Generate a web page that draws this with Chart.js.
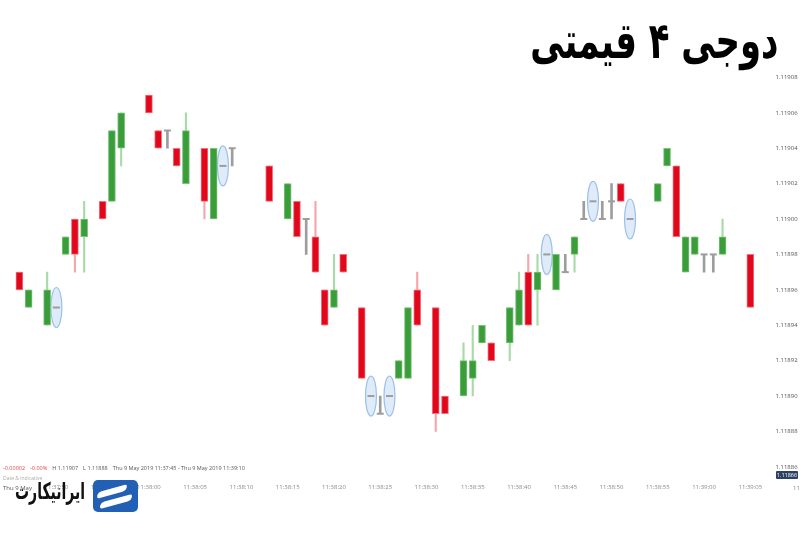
<!DOCTYPE html>
<html lang="fa">
<head>
<meta charset="utf-8">
<script src="https://cdn.jsdelivr.net/npm/chart.js@4.4.1/dist/chart.umd.min.js"></script>
<style>
  html, body { margin: 0; padding: 0; background: #fff; }
  #wrap { position: relative; width: 800px; height: 533px; overflow: hidden; font-family: 'Open Sans', sans-serif; }
  #chart { position: absolute; left: 0; top: 0; }
  .title { position: absolute; right: 22px; top: 12px; font: bold 50px 'DejaVu Sans', sans-serif; color: #000; direction: rtl; white-space: nowrap; transform-origin: right top; }
  .info { position: absolute; left: 3px; top: 464px; font-size: 5.5px; color: #555; white-space: nowrap; }
  .info .neg { color: #e04848; }
  .info span { margin-right: 5px; }
  .sub { position: absolute; left: 3px; top: 475px; font-size: 5px; color: #aaa; }
  .day { position: absolute; left: 3px; top: 484px; font-size: 6px; color: #555; }
  .lastTick { position: absolute; left: 793px; top: 484px; font-size: 6px; color: #8a8a8a; white-space: nowrap; }
  .badge { position: absolute; left: 776px; top: 471px; width: 22px; height: 8px; background: #2d4262; color: #fff; font-size: 5.5px; line-height: 8px; text-align: center; border-radius: 1px; }
  .brand { position: absolute; left: 15px; top: 478px; font: bold 23px 'DejaVu Sans', sans-serif; color: #111; direction: rtl; white-space: nowrap; transform-origin: left top; }
  .icon { position: absolute; left: 93px; top: 480px; width: 45px; height: 32px; background: #2160b4; border-radius: 5px; overflow: hidden; }
  .icon i { position: absolute; display: block; background: #fff; border-radius: 3px; }
</style>
</head>
<body>
<div id="wrap">
  <canvas id="chart" width="800" height="533"></canvas>
  <div class="title" id="title">دوجی ۴ قیمتی</div>
  <div class="info"><span class="neg">-0.00002</span><span class="neg">-0.00%</span><span>H 1.11907</span><span>L 1.11888</span><span>Thu 9 May 2019 11:37:45 - Thu 9 May 2019 11:39:10</span></div>
  <div class="sub">Date &amp; indicative</div>
  <div class="day">Thu 9 May</div>
  <div class="lastTick">11:39:10</div>
  <div class="badge">1.11866</div>
  <div class="brand" id="brand">ایرانیکارت</div>
  <div class="icon">
    <i style="left:6px; top:8px; width:26px; height:7px; transform: skewX(-30deg) rotate(-18deg);"></i>
    <i style="left:9px; top:18px; width:28px; height:7px; transform: skewX(-30deg) rotate(-18deg);"></i>
  </div>
</div>
<script>
// squeeze the Persian texts to the widths they take on the picture
function fitWidth(id, width) {
  const el = document.getElementById(id);
  el.style.transform = `scaleX(${width / el.offsetWidth})`;
}
fitWidth('title', 248);
fitWidth('brand', 70);

// one candle per second, 11:37:45 - 11:39:07
const times = [
  '11:37:45', '11:37:46', '11:37:47', '11:37:48', '11:37:49', '11:37:50', '11:37:51', '11:37:52', '11:37:53', '11:37:54',
  '11:37:55', '11:37:56', '11:37:57', '11:37:58', '11:37:59', '11:38:00', '11:38:01', '11:38:02', '11:38:03', '11:38:04',
  '11:38:05', '11:38:06', '11:38:07', '11:38:08', '11:38:09', '11:38:10', '11:38:11', '11:38:12', '11:38:13', '11:38:14',
  '11:38:15', '11:38:16', '11:38:17', '11:38:18', '11:38:19', '11:38:20', '11:38:21', '11:38:22', '11:38:23', '11:38:24',
  '11:38:25', '11:38:26', '11:38:27', '11:38:28', '11:38:29', '11:38:30', '11:38:31', '11:38:32', '11:38:33', '11:38:34',
  '11:38:35', '11:38:36', '11:38:37', '11:38:38', '11:38:39', '11:38:40', '11:38:41', '11:38:42', '11:38:43', '11:38:44',
  '11:38:45', '11:38:46', '11:38:47', '11:38:48', '11:38:49', '11:38:50', '11:38:51', '11:38:52', '11:38:53', '11:38:54',
  '11:38:55', '11:38:56', '11:38:57', '11:38:58', '11:38:59', '11:39:00', '11:39:01', '11:39:02', '11:39:03', '11:39:04',
  '11:39:05', '11:39:06', '11:39:07'
];

const tickLabels = ['11:37:50', '11:37:55', '11:38:00', '11:38:05', '11:38:10', '11:38:15', '11:38:20', '11:38:25',
  '11:38:30', '11:38:35', '11:38:40', '11:38:45', '11:38:50', '11:38:55', '11:39:00', '11:39:05'];

const priceTicks = [1.11886, 1.11888, 1.11890, 1.11892, 1.11894, 1.11896, 1.11898, 1.11900, 1.11902, 1.11904, 1.11906, 1.11908];

const open = [
  null, 1.11897, 1.11895, null, 1.11894, 1.11895, 1.11898, 1.11900, 1.11899, null,
  1.11901, 1.11901, 1.11904, null, null, 1.11907, 1.11905, 1.11905, 1.11904, 1.11902,
  null, 1.11904, 1.11900, 1.11903, 1.11904, null, null, null, 1.11903, null,
  1.11900, 1.11901, 1.11900, 1.11899, 1.11896, 1.11895, 1.11898, null, 1.11895, 1.11890,
  1.11889, 1.11890, 1.11891, 1.11891, 1.11896, null, 1.11895, 1.11890, null, 1.11890,
  1.11891, 1.11893, 1.11893, null, 1.11893, 1.11894, 1.11897, 1.11896, 1.11898, 1.11896,
  1.11897, 1.11898, 1.11900, 1.11901, 1.11900, 1.11901, 1.11902, 1.11900, null, null,
  1.11901, 1.11903, 1.11903, 1.11897, 1.11898, 1.11898, 1.11898, 1.11898, null, null,
  1.11898, null, null
];
const high = [
  null, 1.11897, 1.11896, null, 1.11897, 1.11895, 1.11899, 1.11900, 1.11901, null,
  1.11901, 1.11905, 1.11906, null, null, 1.11907, 1.11905, 1.11905, 1.11904, 1.11906,
  null, 1.11904, 1.11904, 1.11903, 1.11904, null, null, null, 1.11903, null,
  1.11902, 1.11901, 1.11900, 1.11901, 1.11896, 1.11898, 1.11898, null, 1.11895, 1.11890,
  1.11890, 1.11890, 1.11892, 1.11895, 1.11897, null, 1.11895, 1.11890, null, 1.11893,
  1.11894, 1.11894, 1.11893, null, 1.11895, 1.11897, 1.11898, 1.11898, 1.11898, 1.11898,
  1.11898, 1.11899, 1.11901, 1.11901, 1.11901, 1.11902, 1.11902, 1.11900, null, null,
  1.11902, 1.11904, 1.11903, 1.11899, 1.11899, 1.11898, 1.11898, 1.11900, null, null,
  1.11898, null, null
];
const low = [
  null, 1.11896, 1.11895, null, 1.11894, 1.11895, 1.11898, 1.11897, 1.11897, null,
  1.11900, 1.11901, 1.11903, null, null, 1.11906, 1.11904, 1.11904, 1.11903, 1.11902,
  null, 1.11900, 1.11900, 1.11903, 1.11903, null, null, null, 1.11901, null,
  1.11900, 1.11899, 1.11898, 1.11897, 1.11894, 1.11895, 1.11897, null, 1.11891, 1.11890,
  1.11889, 1.11890, 1.11891, 1.11891, 1.11894, null, 1.11888, 1.11889, null, 1.11890,
  1.11890, 1.11893, 1.11892, null, 1.11892, 1.11894, 1.11894, 1.11894, 1.11898, 1.11896,
  1.11897, 1.11897, 1.11900, 1.11901, 1.11900, 1.11900, 1.11901, 1.11900, null, null,
  1.11901, 1.11903, 1.11899, 1.11897, 1.11898, 1.11897, 1.11897, 1.11898, null, null,
  1.11895, null, null
];
const close = [
  null, 1.11896, 1.11896, null, 1.11896, 1.11895, 1.11899, 1.11898, 1.11900, null,
  1.11900, 1.11905, 1.11906, null, null, 1.11906, 1.11904, 1.11905, 1.11903, 1.11905,
  null, 1.11901, 1.11904, 1.11903, 1.11904, null, null, null, 1.11901, null,
  1.11902, 1.11899, 1.11900, 1.11897, 1.11894, 1.11896, 1.11897, null, 1.11891, 1.11890,
  1.11889, 1.11890, 1.11892, 1.11895, 1.11894, null, 1.11889, 1.11889, null, 1.11892,
  1.11892, 1.11894, 1.11892, null, 1.11895, 1.11896, 1.11894, 1.11897, 1.11898, 1.11898,
  1.11897, 1.11899, 1.11900, 1.11901, 1.11900, 1.11901, 1.11901, 1.11900, null, null,
  1.11902, 1.11904, 1.11899, 1.11899, 1.11899, 1.11898, 1.11898, 1.11899, null, null,
  1.11895, null, null
];

// four-price dojis circled on the picture
const ringTimes = ['11:37:50', '11:38:08', '11:38:24', '11:38:26', '11:38:43', '11:38:48', '11:38:52'];

const UP = '#3a9d3a', UP_EDGE = '#79c479', UP_WICK = '#a9dba9';
const DOWN = '#e1081c', DOWN_EDGE = '#f3727e', DOWN_WICK = '#f6a6ae';
const DOJI = '#9d9d9d';

const isDoji = i => open[i] !== null && open[i] === close[i];
const isUp = i => close[i] > open[i];

const bodyData = times.map((t, i) => (open[i] === null || isDoji(i)) ? null : [open[i], close[i]]);
const wickData = times.map((t, i) => (open[i] === null || isDoji(i) || high[i] === low[i]) ? null : [low[i], high[i]]);
const stemData = times.map((t, i) => (isDoji(i) && high[i] > low[i]) ? [low[i], high[i]] : null);
const dojiData = times.map((t, i) => isDoji(i) ? close[i] : null);

const dojiRings = {
  id: 'dojiRings',
  beforeDatasetsDraw(chart) {
    const { ctx, scales: { x, y } } = chart;
    ctx.save();
    ringTimes.forEach(t => {
      const i = times.indexOf(t);
      const cx = x.getPixelForValue(i);
      const cy = y.getPixelForValue(close[i]);
      ctx.beginPath();
      ctx.ellipse(cx, cy, 5.5, 20, 0, 0, Math.PI * 2);
      ctx.fillStyle = 'rgba(196, 219, 242, 0.55)';
      ctx.fill();
      ctx.strokeStyle = 'rgba(150, 190, 232, 0.95)';
      ctx.lineWidth = 1.2;
      ctx.stroke();
    });
    ctx.restore();
  }
};

const tickFont = { family: "'Open Sans', sans-serif", size: 6 };

new Chart(document.getElementById('chart'), {
  data: {
    labels: times,
    datasets: [
      {
        type: 'bar', label: 'wicks', data: wickData, order: 4, grouped: false,
        barThickness: 1.5,
        backgroundColor: times.map((t, i) => isUp(i) ? UP_WICK : DOWN_WICK)
      },
      {
        type: 'bar', label: 'doji stems', data: stemData, order: 3, grouped: false,
        barThickness: 2, backgroundColor: DOJI
      },
      {
        type: 'bar', label: 'bodies', data: bodyData, order: 2, grouped: false,
        barThickness: 7, borderWidth: 1, borderSkipped: false,
        backgroundColor: times.map((t, i) => isUp(i) ? UP : DOWN),
        borderColor: times.map((t, i) => isUp(i) ? UP_EDGE : DOWN_EDGE)
      },
      {
        type: 'line', label: 'doji', data: dojiData, order: 1, showLine: false,
        pointStyle: 'line', pointRadius: 3.5, pointHoverRadius: 3.5,
        pointBorderWidth: 2, pointBorderColor: DOJI, borderColor: DOJI
      }
    ]
  },
  options: {
    responsive: false,
    animation: false,
    devicePixelRatio: 1,
    layout: { padding: { left: 1.55, top: 42, right: 0, bottom: 0 } },
    plugins: { legend: { display: false }, tooltip: { enabled: false } },
    scales: {
      x: {
        type: 'category',
        offset: true,
        grid: { display: false, drawTicks: false },
        border: { display: false },
        ticks: {
          autoSkip: false, maxRotation: 0, padding: 3,
          color: '#8a8a8a', font: tickFont,
          callback: function (v) {
            const t = this.getLabelForValue(v);
            return tickLabels.includes(t) ? t : '';
          }
        },
        afterFit: axis => { axis.height = 52; }
      },
      y: {
        position: 'right',
        min: 1.118852,
        max: 1.1191,
        grid: { display: false, drawTicks: false },
        border: { display: false },
        afterBuildTicks: axis => { axis.ticks = priceTicks.map(v => ({ value: v })); },
        ticks: {
          padding: 2, color: '#555', font: tickFont,
          callback: v => v.toFixed(5)
        },
        afterFit: axis => { axis.width = 26.55; }
      }
    }
  },
  plugins: [dojiRings]
});
</script>
</body>
</html>
